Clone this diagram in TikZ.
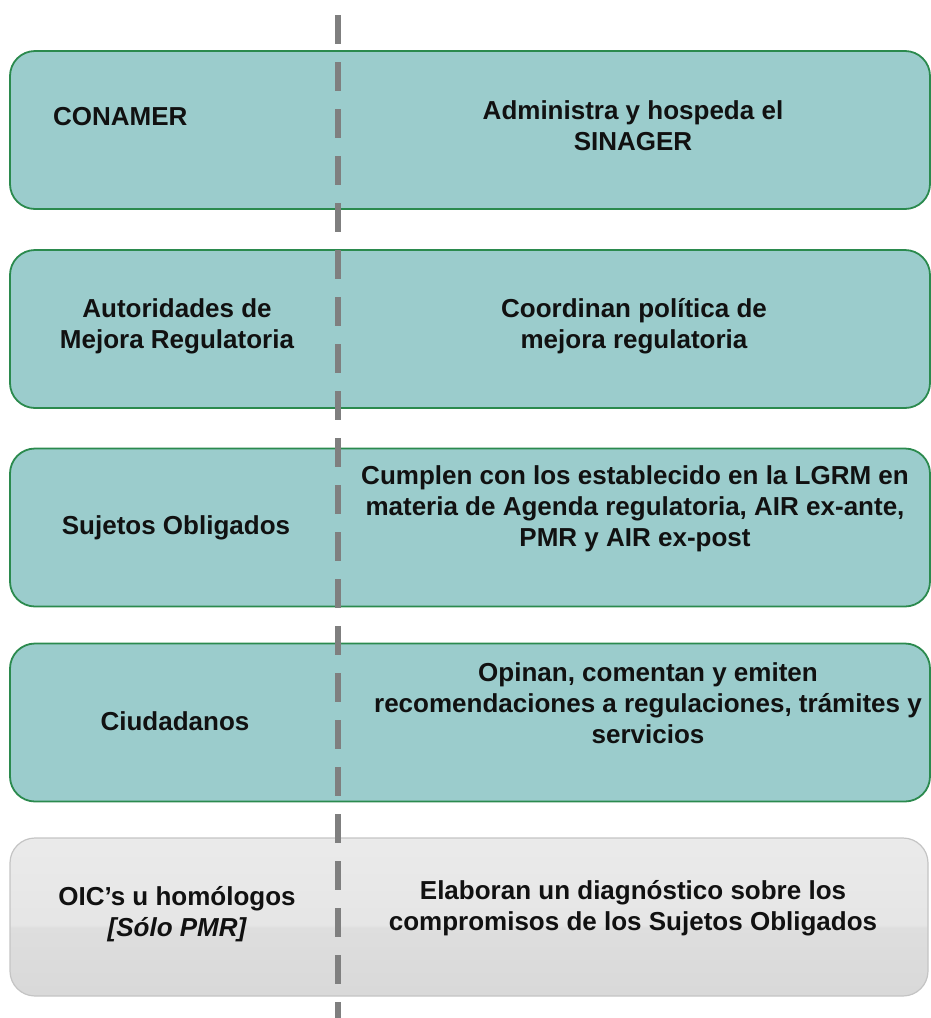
\documentclass[tikz,border=0pt]{standalone}
\usepackage{fontspec}
\setmainfont{Liberation Sans}
\definecolor{teal1}{HTML}{9BCCCC}
\definecolor{boxline}{HTML}{2B8A4E}
\definecolor{grayline}{HTML}{C4C4C4}
\definecolor{dashcol}{HTML}{7F7F7F}
\definecolor{textcol}{HTML}{111111}
\pgfdeclareverticalshading{glossgray}{100bp}{%
  color(0bp)=(black!15); color(25bp)=(black!15); color(46.5bp)=(black!13);
  color(47.5bp)=(black!10); color(75bp)=(black!8); color(100bp)=(black!8)}
\begin{document}
\begin{tikzpicture}[x=1pt,y=-1pt,
  tealbox/.style={draw=boxline, line width=1.8pt, fill=teal1, rounded corners=25pt,
    minimum width=920pt, minimum height=158pt, inner sep=0pt},
  greybox/.style={draw=grayline, line width=1.2pt, shading=glossgray,
    rounded corners=25pt, minimum width=918pt, minimum height=158pt, inner sep=0pt},
  txt/.style={font=\fontsize{26}{31}\selectfont\bfseries, align=center, text=textcol, inner sep=0pt},
  divider/.style={draw=dashcol, line width=6pt, dash pattern=on 29pt off 18pt}
]
\useasboundingbox (0,0) rectangle (931,1018);
% boxes
\node[tealbox] (b1) at (470,130) {};
\node[tealbox] (b2) at (470,329) {};
\node[tealbox] (b3) at (470,527.5) {};
\node[tealbox] (b4) at (470,722.5) {};
\node[greybox] (b5) at (469,917) {};
% divider
\coordinate (dtop) at (338,15);
\coordinate (dbot) at (338,1018);
\draw[divider] (dtop) -- (dbot);
% texts
\node[txt, anchor=west] (l1) at (53,117) {CONAMER};
\node[txt] (r1) at (633,126) {Administra y hospeda el\\SINAGER};
\node[txt] (l2) at (177,326) {Autoridades de\\Mejora Regulatoria};
\node[txt] (r2) at (634,326) {Coordinan pol\'{\i}tica de\\mejora regulatoria};
\node[txt] (l3) at (176,528) {Sujetos Obligados};
\node[txt] (r3) at (635,509) {Cumplen con los establecido en la LGRM en\\materia de Agenda regulatoria, AIR ex-ante,\\PMR y AIR ex-post};
\node[txt] (l4) at (175,721) {Ciudadanos};
\node[txt] (r4) at (648,703) {Opinan, comentan y emiten\\recomendaciones a regulaciones, tr\'amites y\\servicios};
\node[txt] (l5) at (177,914) {OIC’s u hom\'ologos\\{\itshape [S\'olo PMR]}};
\node[txt] (r5) at (633,908) {Elaboran un diagn\'ostico sobre los\\compromisos de los Sujetos Obligados};
\end{tikzpicture}
\end{document}
